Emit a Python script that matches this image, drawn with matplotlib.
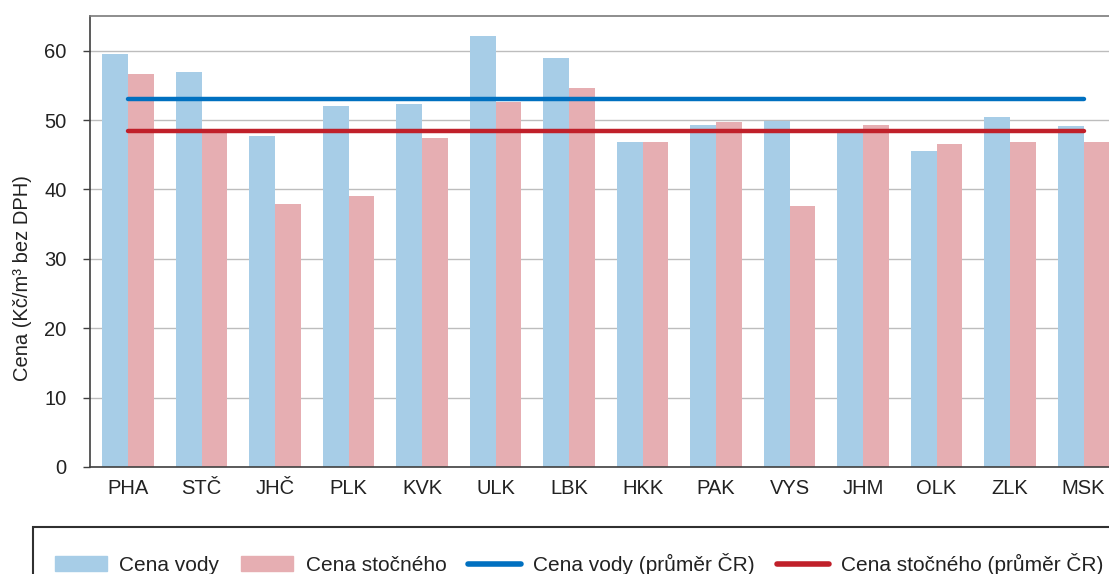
import matplotlib.pyplot as plt
import numpy as np
from matplotlib.patches import Rectangle
from matplotlib.lines import Line2D
from matplotlib.patches import Patch

"""
Cena vody a stočného podle krajů, s průměrem ČR.
"""

kraje = ["PHA", "STČ", "JHČ", "PLK", "KVK", "ULK", "LBK",
         "HKK", "PAK", "VYS", "JHM", "OLK", "ZLK", "MSK"]
cena_vody = [59.5, 56.9, 47.7, 52.0, 52.3, 62.1, 58.9,
             46.8, 49.3, 49.8, 48.5, 45.6, 50.5, 49.1]
cena_stocneho = [56.6, 48.4, 37.9, 39.0, 47.4, 52.6, 54.6,
                 46.8, 49.7, 37.6, 49.3, 46.5, 46.8, 46.8]
prumer_vody = 53.0
prumer_stocneho = 48.4

c_voda = "#A7CDE7"
c_stoc = "#E6AEB2"
c_voda_line = "#0070C0"
c_stoc_line = "#C0202A"

plt.rcParams['font.family'] = ['Liberation Sans', 'DejaVu Sans']

fig = plt.figure(figsize=(11.09, 5.74), dpi=100)
W, H = 1109, 574
ax = fig.add_axes([90 / W, 1 - 467 / H, (1125 - 90) / W, (467 - 16) / H])

x = np.arange(len(kraje))
w = 0.35
ax.bar(x - w / 2, cena_vody, w, color=c_voda, zorder=2)
ax.bar(x + w / 2, cena_stocneho, w, color=c_stoc, zorder=2)
ax.plot(x, [prumer_vody] * len(x), color=c_voda_line, lw=3.2,
        solid_capstyle='round', zorder=3)
ax.plot(x, [prumer_stocneho] * len(x), color=c_stoc_line, lw=3.2,
        solid_capstyle='round', zorder=3)

ax.set_xlim(-0.52, (1125 - 128) / 73.5)
ax.set_ylim(0, 65)
ax.set_yticks(range(0, 61, 10))
ax.set_xticks(x)
ax.set_xticklabels(kraje)
ax.yaxis.grid(True, color="#BDBDBD", lw=1.0, zorder=0)
ax.set_axisbelow(True)

for s in ["left", "bottom", "top"]:
    ax.spines[s].set_color("#404040")
    ax.spines[s].set_linewidth(1.2)
ax.spines["top"].set_color("#7a7a7a")
ax.spines["right"].set_visible(False)
ax.tick_params(axis='x', length=0, pad=9, labelsize=14.5, colors="#222222")
ax.tick_params(axis='y', length=5, width=1, color="#404040", pad=12,
               labelsize=14.5, labelcolor="#222222")
ax.set_ylabel("Cena (Kč/m³ bez DPH)", fontsize=14.5, color="#222222")
ax.yaxis.set_label_coords(-58 / (1125 - 90), (467 - 278) / (467 - 16))

# Legend frame (cropped by the figure edge like the original)
fig.patches.append(Rectangle((33 / W, -0.1), (1120 - 33) / W, 0.1 + 1 - 527 / H,
                             transform=fig.transFigure, fill=False,
                             edgecolor="#303030", lw=1.5))
handles = [Patch(color=c_voda), Patch(color=c_stoc),
           Line2D([], [], color=c_voda_line, lw=4, solid_capstyle='round'),
           Line2D([], [], color=c_stoc_line, lw=4, solid_capstyle='round')]
labels = ["Cena vody", "Cena stočného", "Cena vody (průměr ČR)",
          "Cena stočného (průměr ČR)"]
fig.legend(handles, labels, ncol=4, frameon=False, loc='center left',
           bbox_to_anchor=(36 / W, 1 - 564 / H), fontsize=15,
           handlelength=2.5, handleheight=0.75, handletextpad=0.6,
           columnspacing=1.05, labelcolor="#222222")

fig.savefig("out.png", dpi=100)
